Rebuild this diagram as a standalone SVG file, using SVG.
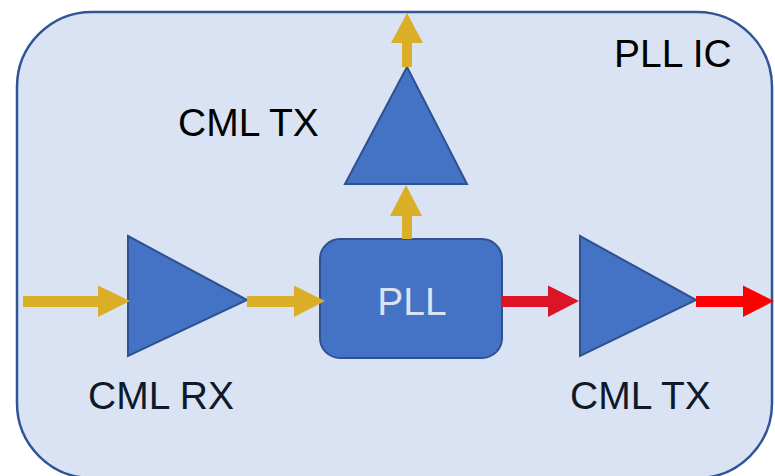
<svg xmlns="http://www.w3.org/2000/svg" width="775" height="476" viewBox="0 0 775 476">
<style>
.amp{fill:#4472C4;stroke:#2F528F;stroke-width:2;stroke-linejoin:miter}
.lbl{font-family:"Liberation Sans",Arial,sans-serif;font-size:39px}
.gold{fill:#DAAE26}
</style>
<rect width="775" height="476" fill="#FFFFFF"/>
<g id="pll-ic">
<rect x="17" y="12" width="755" height="466" rx="75" ry="75" fill="#DAE3F3" stroke="#2F5597" stroke-width="2.5"/>
<text class="lbl" x="614" y="67" font-size="37" fill="#000000">PLL IC</text>
</g>
<g id="cml-rx">
<polygon class="amp" points="128,236 128,356 247,300"/>
<text class="lbl" x="88" y="409" fill="#0E1A2B">CML RX</text>
</g>
<g id="pll">
<rect x="320" y="239" width="182" height="119" rx="20" ry="20" fill="#4472C4" stroke="#2F528F" stroke-width="2"/>
<text class="lbl" x="412" y="315" text-anchor="middle" font-size="40" fill="#DAE3F3">PLL</text>
</g>
<g id="cml-tx-top">
<polygon class="amp" points="345,184 467,184 407,67"/>
<text class="lbl" x="178" y="136" fill="#000000">CML TX</text>
</g>
<g id="cml-tx-right">
<polygon class="amp" points="580,236 580,356 696,300"/>
<text class="lbl" x="570" y="409" fill="#0E1A2B">CML TX</text>
</g>
<g id="connectors">
<polygon class="gold" points="23,296 98,296 98,285.5 130,301 98,317 98,307 23,307"/>
<polygon class="gold" points="247,296 294,296 294,285.5 325,301 294,317 294,307 247,307"/>
<polygon fill="#DC1428" points="502,296 548,296 548,285.5 579,301 548,317 548,307 502,307"/>
<polygon fill="#FF0000" points="696,296 743,296 743,285.5 774,301 743,317 743,307 696,307"/>
<polygon class="gold" points="402,239 402,216 390,216 406,185 422,216 412,216 412,239"/>
<polygon class="gold" points="402,67 402,43 391,43 407,13 423,43 412,43 412,67"/>
</g>
</svg>
